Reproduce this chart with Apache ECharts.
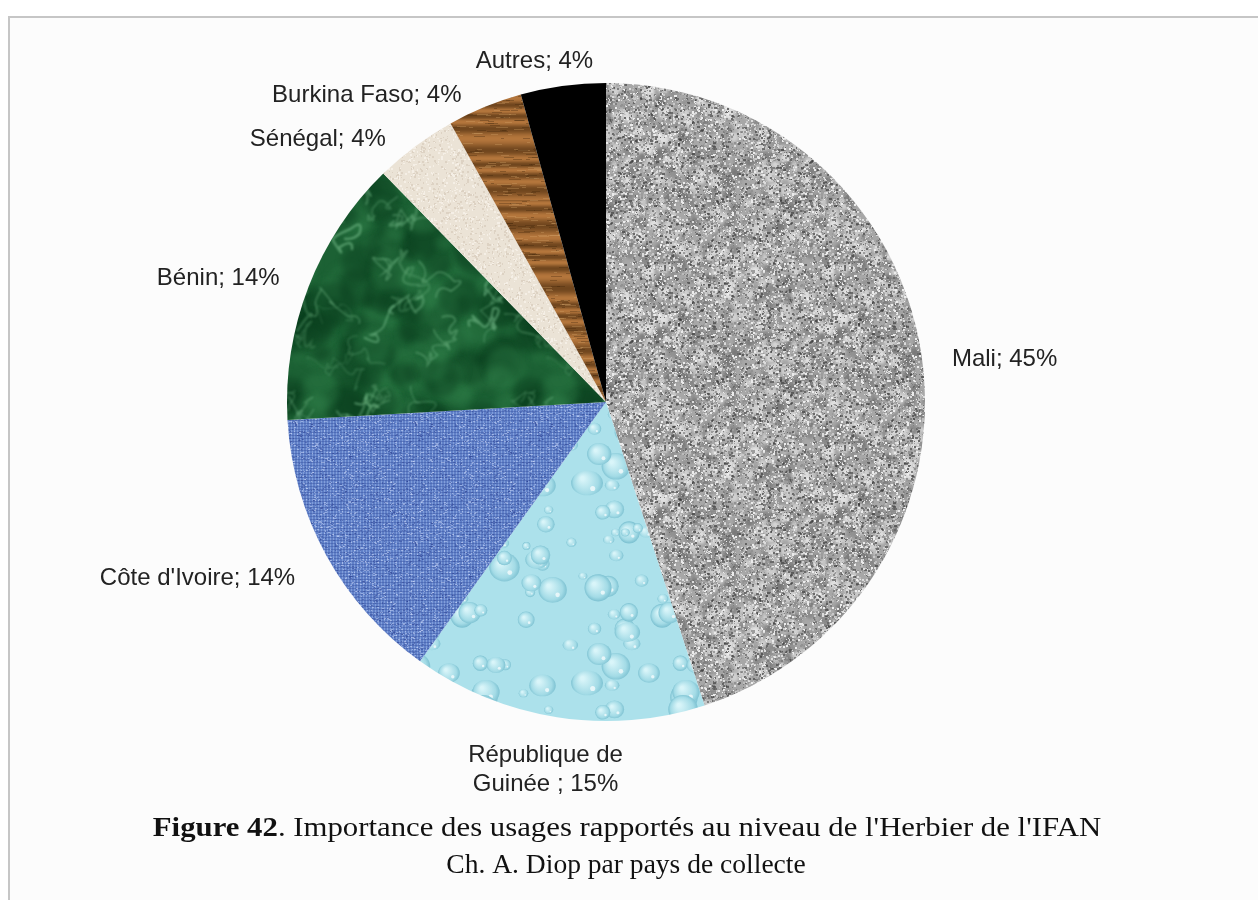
<!DOCTYPE html>
<html>
<head>
<meta charset="utf-8">
<script src="https://cdn.jsdelivr.net/npm/echarts@6/dist/echarts.min.js"></script>
<style>
  html, body { margin: 0; padding: 0; background: #fff; }
  #main { width: 1258px; height: 900px; }
</style>
</head>
<body>
<div id="main"></div>
<script>
// pays de collecte, dans l'ordre des secteurs (sens horaire depuis midi)
const countries = ['Mali', 'République de Guinée', "Côte d'Ivoire", 'Bénin', 'Sénégal', 'Burkina Faso', 'Autres'];
const shares = [45.0, 14.9, 14.2, 13.6, 4.2, 3.8, 4.3];
const sliceLabels = ['Mali; 45%', 'République de\nGuinée ; 15%', "Côte d'Ivoire; 14%", 'Bénin; 14%', 'Sénégal; 4%', 'Burkina Faso; 4%', 'Autres; 4%'];

// décalage des étiquettes par rapport au placement auto d'echarts (style seulement)
const labelShift = [[12, 9], [73, 39], [-14, 16], [-11, -3], [-16, 4], [-13, 1], [37, -11]];

// petites textures dessinées sur canvas (bruit pseudo-aléatoire fixe, purement décoratif)
function rng(seed) {
    let s = seed;
    return function () {
        s = (s * 1664525 + 1013904223) % 4294967296;
        return s / 4294967296;
    };
}
function makeCanvas(w, h) {
    const c = document.createElement('canvas');
    c.width = w; c.height = h;
    return c;
}
// dessine une forme 9 fois pour que le motif se raccorde sans couture
function wrapped(size, fn) {
    for (let ox = -size; ox <= size; ox += size) {
        for (let oy = -size; oy <= size; oy += size) {
            fn(ox, oy);
        }
    }
}

function granite() {
    const S = 180, c = makeCanvas(S, S), g = c.getContext('2d'), r = rng(11);
    g.fillStyle = '#a7a7a7'; g.fillRect(0, 0, S, S);
    g.filter = 'blur(1.5px)';
    for (let i = 0; i < 500; i++) {
        const x = r() * S, y = r() * S, rad = 2 + r() * 4;
        g.fillStyle = r() < 0.5 ? 'rgba(235,235,235,0.6)' : 'rgba(110,110,110,0.5)';
        wrapped(S, function (ox, oy) {
            g.beginPath(); g.arc(x + ox, y + oy, rad, 0, Math.PI * 2); g.fill();
        });
    }
    g.filter = 'none';
    const cols = ['#6a6a6a', '#808080', '#929292', '#bcbcbc', '#c9c9c9', '#dcdcdc', '#ececec', '#9c9c9c'];
    for (let i = 0; i < 7500; i++) {
        g.fillStyle = cols[Math.floor(r() * cols.length)];
        const s = 1 + Math.floor(r() * 2);
        g.fillRect(Math.floor(r() * S), Math.floor(r() * S), s, s);
    }
    for (let i = 0; i < 350; i++) {
        g.fillStyle = 'rgba(55,55,55,0.6)';
        g.fillRect(Math.floor(r() * S), Math.floor(r() * S), 2 + Math.floor(r() * 2), 2);
    }
    return c;
}

function water() {
    const S = 200, c = makeCanvas(S, S), g = c.getContext('2d'), r = rng(23);
    g.fillStyle = '#ace1eb'; g.fillRect(0, 0, S, S);
    for (let i = 0; i < 55; i++) {
        const x = r() * S, y = r() * S, rad = 4 + r() * 12, ry = 0.75 + r() * 0.3;
        wrapped(S, function (ox, oy) {
            const px = x + ox, py = y + oy;
            const grd = g.createRadialGradient(px - rad * 0.3, py - rad * 0.3, rad * 0.1, px, py, rad);
            grd.addColorStop(0, '#d9f5f9');
            grd.addColorStop(0.75, '#a3dbe6');
            grd.addColorStop(1, '#7ec2d2');
            g.fillStyle = grd;
            g.beginPath();
            g.ellipse(px, py, rad, rad * ry, 0, 0, Math.PI * 2);
            g.fill();
            g.fillStyle = 'rgba(255,255,255,0.7)';
            g.beginPath();
            g.arc(px + rad * 0.35, py + rad * 0.35, rad * 0.16, 0, Math.PI * 2);
            g.fill();
        });
    }
    return c;
}

function fabric() {
    const S = 120, c = makeCanvas(S, S), g = c.getContext('2d'), r = rng(37);
    g.fillStyle = '#6080c8'; g.fillRect(0, 0, S, S);
    for (let x = 0; x < S; x += 3) {
        g.fillStyle = 'rgba(160,185,235,0.5)';
        g.fillRect(x, 0, 1, S);
    }
    for (let y = 0; y < S; y += 3) {
        g.fillStyle = 'rgba(50,75,155,0.4)';
        g.fillRect(0, y, S, 1);
    }
    for (let i = 0; i < 1600; i++) {
        g.fillStyle = r() < 0.5 ? 'rgba(195,210,245,0.55)' : 'rgba(45,65,145,0.45)';
        g.fillRect(Math.floor(r() * S), Math.floor(r() * S), 1 + Math.floor(r() * 2), 1);
    }
    return c;
}

function marble() {
    const S = 240, c = makeCanvas(S, S), g = c.getContext('2d'), r = rng(53);
    g.fillStyle = '#1c6134'; g.fillRect(0, 0, S, S);
    g.filter = 'blur(3px)';
    for (let i = 0; i < 220; i++) {
        const x = r() * S, y = r() * S, rad = 5 + r() * 18;
        g.fillStyle = r() < 0.55 ? 'rgba(10,65,30,0.45)' : 'rgba(50,130,75,0.35)';
        wrapped(S, function (ox, oy) {
            g.beginPath(); g.arc(x + ox, y + oy, rad, 0, Math.PI * 2); g.fill();
        });
    }
    g.filter = 'blur(0.8px)';
    for (let i = 0; i < 40; i++) {
        const pts = [];
        let x = r() * S, y = r() * S;
        pts.push([x, y]);
        for (let k = 0; k < 5; k++) {
            const cx = x + (r() - 0.5) * 30, cy = y + (r() - 0.5) * 30;
            x += (r() - 0.5) * 36; y += (r() - 0.5) * 36;
            pts.push([cx, cy, x, y]);
        }
        g.strokeStyle = 'rgba(120,190,140,' + (0.25 + r() * 0.35) + ')';
        g.lineWidth = 0.8 + r() * 1.6;
        wrapped(S, function (ox, oy) {
            g.beginPath();
            g.moveTo(pts[0][0] + ox, pts[0][1] + oy);
            for (let k = 1; k < pts.length; k++) {
                g.quadraticCurveTo(pts[k][0] + ox, pts[k][1] + oy, pts[k][2] + ox, pts[k][3] + oy);
            }
            g.stroke();
        });
    }
    g.filter = 'none';
    return c;
}

function paper() {
    const S = 120, c = makeCanvas(S, S), g = c.getContext('2d'), r = rng(71);
    g.fillStyle = '#ebe3d6'; g.fillRect(0, 0, S, S);
    for (let i = 0; i < 1500; i++) {
        g.fillStyle = r() < 0.5 ? '#ddd2c3' : '#f5efe6';
        g.fillRect(Math.floor(r() * S), Math.floor(r() * S), 1 + Math.floor(r() * 2), 1 + Math.floor(r() * 2));
    }
    return c;
}

function wood() {
    const S = 200, c = makeCanvas(S, S), g = c.getContext('2d'), r = rng(89);
    for (let y = 0; y < S; y++) {
        const t = 0.5 + 0.5 * Math.sin(y / 2.4 + Math.sin(y / 9) * 1.5);
        const cr = Math.round(112 + t * 68), cg = Math.round(70 + t * 48), cb = Math.round(30 + t * 30);
        g.fillStyle = 'rgb(' + cr + ',' + cg + ',' + cb + ')';
        g.fillRect(0, y, S, 1);
    }
    for (let i = 0; i < 900; i++) {
        g.fillStyle = r() < 0.5 ? 'rgba(70,40,12,0.35)' : 'rgba(215,170,110,0.3)';
        g.fillRect(Math.floor(r() * S), Math.floor(r() * S), 3 + Math.floor(r() * 10), 1);
    }
    return c;
}

const textures = [granite(), water(), fabric(), marble(), paper(), wood(), null];

const chart = echarts.init(document.getElementById('main'));

const pieData = countries.map(function (name, i) {
    return {
        name: name,
        value: shares[i],
        itemStyle: {
            color: textures[i] ? { image: textures[i], repeat: 'repeat' } : '#000'
        },
        label: { formatter: sliceLabels[i] }
    };
});

chart.setOption({
    backgroundColor: '#ffffff',
    animation: false,
    graphic: [
        {
            type: 'rect',
            shape: { x: 9, y: 17, width: 1280, height: 920 },
            style: { fill: '#fcfcfc', stroke: '#c6c6c6', lineWidth: 2 },
            z: -10
        },
        {
            type: 'text',
            x: 627,
            y: 829,
            scaleX: 1.14,
            style: {
                x: 0,
                y: 0,
                align: 'center',
                verticalAlign: 'middle',
                text: '{b|Figure 42}. Importance des usages rapportés au niveau de l\'Herbier de l\'IFAN',
                font: '27px "Liberation Serif", serif',
                fill: '#111',
                rich: {
                    b: { fontFamily: 'Liberation Serif', fontSize: 27, fontWeight: 'bold', fill: '#111' }
                }
            }
        },
        {
            type: 'text',
            x: 626,
            y: 866,
            scaleX: 1.02,
            style: {
                x: 0,
                y: 0,
                align: 'center',
                verticalAlign: 'middle',
                text: 'Ch. A. Diop par pays de collecte',
                font: '27px "Liberation Serif", serif',
                fill: '#111'
            }
        }
    ],
    series: [
        {
            type: 'pie',
            center: [606, 402],
            radius: 319,
            startAngle: 90,
            clockwise: true,
            avoidLabelOverlap: false,
            data: pieData,
            itemStyle: { borderWidth: 0 },
            label: {
                show: true,
                position: 'outside',
                fontFamily: 'Liberation Sans',
                fontSize: 24,
                color: '#222',
                lineHeight: 29
            },
            labelLine: { show: false, length: 14, length2: 0 },
            labelLayout: function (params) {
                const d = labelShift[params.dataIndex];
                const rc = params.labelRect;
                return {
                    x: rc.x + rc.width / 2 + d[0],
                    y: rc.y + rc.height / 2 + d[1],
                    align: 'center',
                    verticalAlign: 'middle',
                    hideOverlap: false
                };
            },
            emphasis: { disabled: true }
        }
    ]
});
</script>
</body>
</html>
